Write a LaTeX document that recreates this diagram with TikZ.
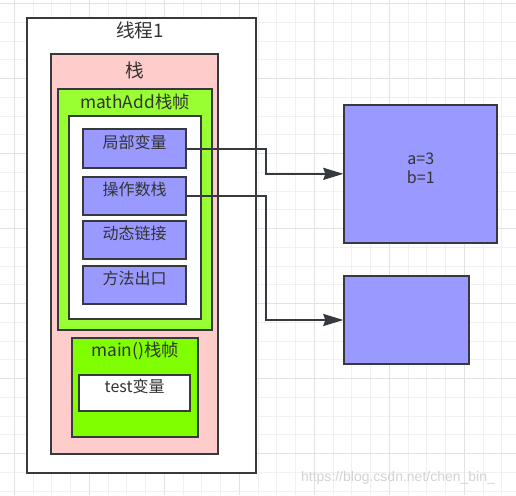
\documentclass[tikz,border=0pt]{standalone}
\usepackage{fontspec}
\setmainfont{Noto Sans CJK SC}
\newfontfamily\wmfont{Liberation Sans}
\usetikzlibrary{fit,arrows.meta}
\definecolor{strk}{HTML}{36393D}
\definecolor{txt}{HTML}{333333}
\definecolor{pinkbg}{HTML}{FFCCCC}
\definecolor{greenA}{HTML}{99FF33}
\definecolor{greenB}{HTML}{80FF00}
\definecolor{purp}{HTML}{9999FF}
\definecolor{gridminor}{HTML}{F0F0F0}
\definecolor{gridmajor}{HTML}{E2E2E2}
\tikzset{
  box/.style={draw=strk, line width=1.5pt, inner sep=0pt, text=txt},
  ttl/.style={text=txt, inner sep=0pt},
  conn/.style={draw=strk, line width=1.5pt, -{Stealth[length=15pt,width=9pt,inset=1.5pt]}},
}
\begin{document}
\begin{tikzpicture}[x=0.75pt,y=-0.75pt]
\useasboundingbox (0,0) rectangle (516,495);
\fill[white] (0,0) rectangle (516,495);
% grid
\foreach \i in {0,...,27} {
  \pgfmathsetmacro\gx{14.3+18.75*\i}
  \draw[gridminor, line width=0.75pt] (\gx,0) -- (\gx,495);
}
\foreach \i in {0,...,26} {
  \pgfmathsetmacro\gy{3.7+18.75*\i}
  \draw[gridminor, line width=0.75pt] (0,\gy) -- (516,\gy);
}
\foreach \i in {0,...,6} {
  \pgfmathsetmacro\gx{14.3+75*\i}
  \draw[gridmajor, line width=0.75pt] (\gx,0) -- (\gx,495);
  \pgfmathsetmacro\gy{3.7+75*\i}
  \draw[gridmajor, line width=0.75pt] (0,\gy) -- (516,\gy);
}
% thread
\node[box, fill=white, fit={(27.3,18.3)(255.7,473.3)}] (thread) {};
\node[ttl, font=\fontsize{14}{16}\selectfont] (threadT) at (140,30.7) {线程1};
% stack
\node[box, fill=pinkbg, fit={(51,54)(218.3,454)}] (stack) {};
\node[ttl, font=\fontsize{14}{16}\selectfont] (stackT) at (135,70) {栈};
% mathAdd frame
\node[box, fill=greenA, fit={(58.3,89.3)(211.7,330.3)}] (mathadd) {};
\node[ttl, font=\fontsize{13}{15}\selectfont] (mathaddT) at (135,101.7) {mathAdd栈帧};
\node[box, fill=white, fit={(69.3,115.7)(200.7,319.3)}] (inner) {};
\node[box, fill=purp, fit={(83.3,129.3)(186,168.3)}, font=\fontsize{12}{14}\selectfont] (local) {局部变量};
\node[box, fill=purp, fit={(83.3,176.7)(186,215)}, font=\fontsize{12}{14}\selectfont] (opstack) {操作数栈};
\node[box, fill=purp, fit={(83.3,220.7)(186,259.3)}, font=\fontsize{12}{14}\selectfont] (dynlink) {动态链接};
\node[box, fill=purp, fit={(83.3,265.7)(186,304.3)}, font=\fontsize{12}{14}\selectfont] (retaddr) {方法出口};
% main frame
\node[box, fill=greenB, fit={(72,338.3)(197.7,437.3)}] (mainf) {};
\node[ttl, font=\fontsize{13}{15}\selectfont] (mainT) at (135,351) {main()栈帧};
\node[box, fill=white, fit={(79,375)(190.3,411)}, font=\fontsize{12}{14}\selectfont] (testv) {test变量};
% heap objects
\node[box, fill=purp, fit={(344.3,105)(497.3,242.7)}, font=\fontsize{12}{14.5}\selectfont, align=center] (obj1) {a=3\\b=1};
\node[box, fill=purp, fit={(344.3,276)(469.3,364)}] (obj2) {};
% connectors
\draw[conn] (local.east) -- ++(79,0) |- (obj1.west);
\draw[conn] (opstack.east) -- ++(79,0) |- (obj2.west);
% watermark
\node[text=gray!35, font=\fontsize{10.5}{12}\wmfont, inner sep=0pt] (wm) at (398,478) {https://blog.csdn.net/chen\_bin\_};
\end{tikzpicture}
\end{document}
